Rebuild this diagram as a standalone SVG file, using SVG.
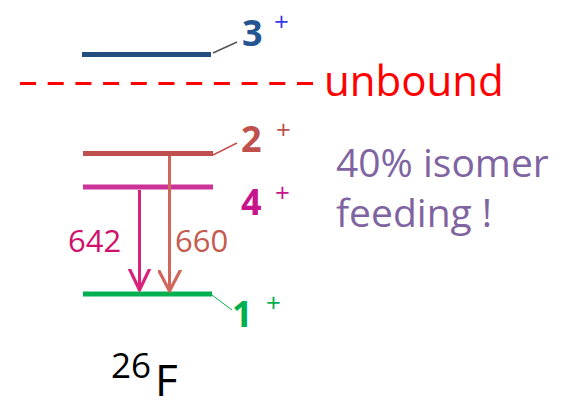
<svg xmlns="http://www.w3.org/2000/svg" width="567" height="400" viewBox="0 0 567 400">
<style>
text{font-family:"Open Sans","Liberation Sans",sans-serif}
.lvl{stroke-width:5;fill:none}
.spin{font-weight:bold;font-size:36px}
.plus{font-size:26px}
.lbl{font-size:31px}
</style>
<defs>
<marker id="ah1" viewBox="0 0 24 24" markerWidth="24" markerHeight="24" refX="21" refY="12" markerUnits="userSpaceOnUse" orient="auto">
<polyline points="0,2 21,12 0,22" fill="none" stroke="#D9237A" stroke-width="3.2" stroke-linecap="round" stroke-linejoin="round"/>
</marker>
<marker id="ah2" viewBox="0 0 24 24" markerWidth="24" markerHeight="24" refX="21" refY="12" markerUnits="userSpaceOnUse" orient="auto">
<polyline points="0,1 21,12 0,23" fill="none" stroke="#D0675A" stroke-width="3.2" stroke-linecap="round" stroke-linejoin="round"/>
</marker>
</defs>
<rect width="567" height="400" fill="#fff"/>
<g id="level-3plus">
<line class="lvl" x1="82" y1="54.5" x2="211" y2="54.5" stroke="#254E80"/>
<line x1="213" y1="53" x2="237" y2="42" stroke="#555" stroke-width="1.5"/>
<text class="spin" x="242" y="46" fill="#255590">3</text>
<text class="plus" x="274" y="31" fill="#3A3AEE">+</text>
</g>
<g id="unbound">
<line x1="20" y1="83.5" x2="316" y2="83.5" stroke="#FF0000" stroke-width="3" stroke-dasharray="16 11.7"/>
<text x="324" y="96" font-size="42" fill="#FF0000">unbound</text>
</g>
<g id="level-2plus">
<line class="lvl" x1="83" y1="153.5" x2="213" y2="153.5" stroke="#C0504D"/>
<line x1="213" y1="155" x2="237" y2="143" stroke="#C0504D" stroke-width="1.5"/>
<text class="spin" x="241" y="152" fill="#C0504D">2</text>
<text class="plus" x="276" y="139" fill="#C0504D">+</text>
</g>
<g id="level-4plus">
<line class="lvl" x1="83" y1="187" x2="213" y2="187" stroke="#CC3399"/>
<text class="spin" x="241" y="215" fill="#C8148C">4</text>
<text class="plus" x="275" y="202" fill="#C8148C">+</text>
</g>
<g id="level-1plus">
<line class="lvl" x1="83" y1="294" x2="212" y2="294" stroke="#00B050"/>
<line x1="212" y1="295" x2="232" y2="310" stroke="#00B050" stroke-width="1"/>
<text class="spin" x="232" y="327" fill="#00B050">1</text>
<text class="plus" x="266" y="312" fill="#00B050">+</text>
</g>
<g id="connectors">
<line x1="139.5" y1="190" x2="139.5" y2="290" stroke="#D9237A" stroke-width="3" marker-end="url(#ah1)"/>
<line x1="169.5" y1="156" x2="169.5" y2="291" stroke="#D0675A" stroke-width="3" marker-end="url(#ah2)"/>
<text class="lbl" x="68" y="252" fill="#D0106C">642</text>
<text class="lbl" x="175" y="252" fill="#C55A4F">660</text>
</g>
<g id="note">
<text x="336" y="177" font-size="39" fill="#8064A2">40% isomer</text>
<text x="336" y="227" font-size="39" fill="#8064A2">feeding !</text>
</g>
<g id="nucleus">
<text x="111" y="378" font-size="35" fill="#000">26</text>
<text x="155" y="396" font-size="44" fill="#000">F</text>
</g>
</svg>
